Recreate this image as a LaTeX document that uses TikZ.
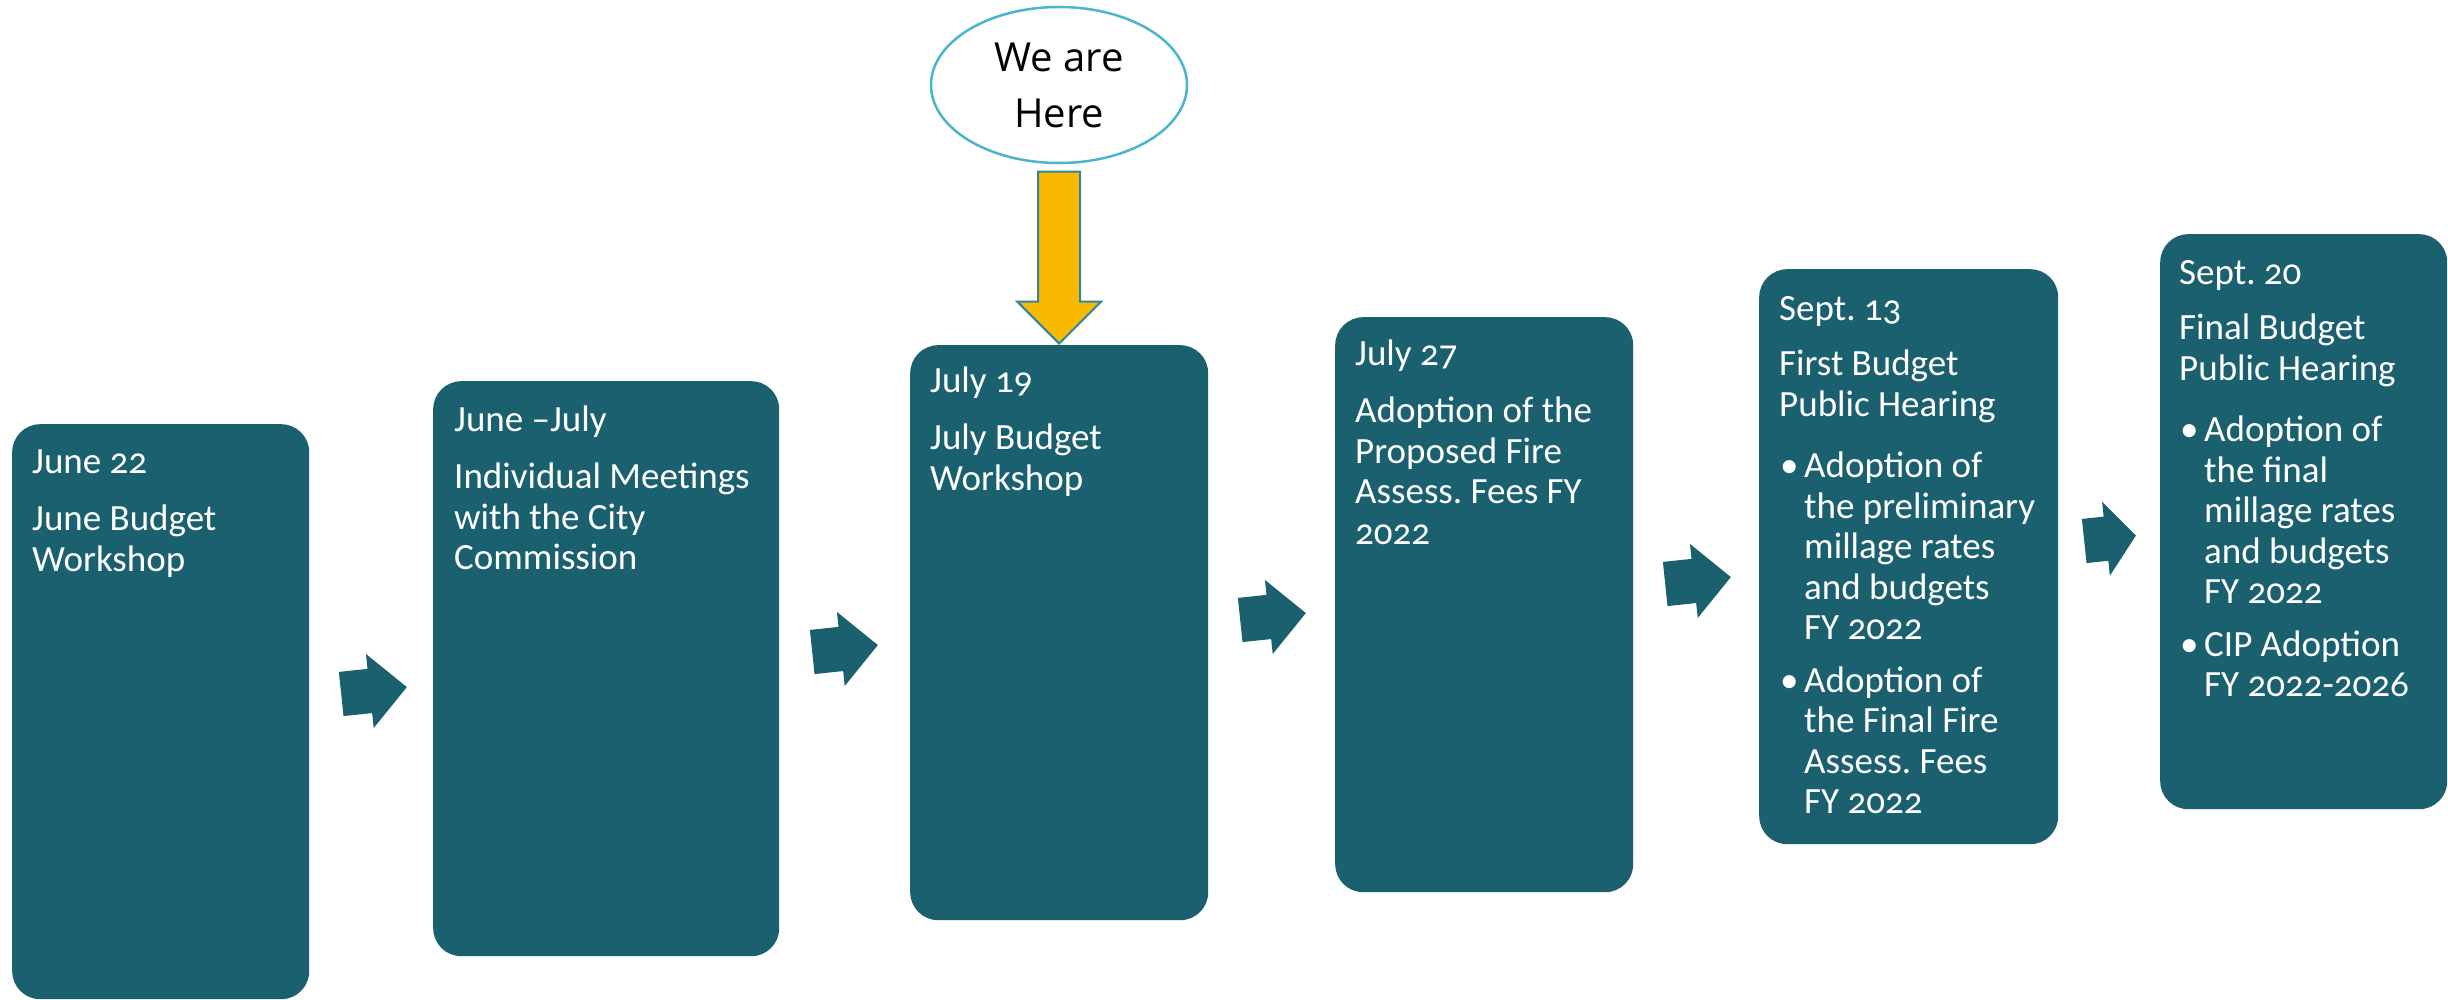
\documentclass[tikz,border=0pt]{standalone}
\usepackage{fontspec}
\setmainfont[Numbers=OldStyle]{Carlito}
\newfontfamily\calloutfont{Open Sans}
\usetikzlibrary{shapes.geometric,shapes.arrows,positioning}
\frenchspacing

\definecolor{stepteal}{RGB}{27,96,110}
\definecolor{calloutblue}{RGB}{75,180,207}
\definecolor{markeryellow}{RGB}{249,185,0}
\definecolor{markeredge}{RGB}{49,133,156}

% first-line strut, bullet and hanging indent for the list lines
\newcommand\firstline{\rule{0pt}{30pt}}
\newcommand\bul{\hspace*{1pt}\makebox[24pt][l]{\textbullet}}
\newcommand\ind{\hspace*{25pt}}

\tikzset{
  stepbox/.style={fill=stepteal, rounded corners=28pt, anchor=north west,
    minimum height=575pt, inner sep=0pt},
  steptext/.style={text=white, inner sep=0pt, align=left,
    font=\fontsize{37}{40.5}\selectfont},
  chevron/.style={single arrow, fill=stepteal, inner xsep=0pt, inner ysep=22pt,
    single arrow head extend=15pt, minimum height=66pt, anchor=tail, rotate=6},
  callout/.style={ellipse, draw=calloutblue, line width=2.5pt, fill=white,
    minimum width=256pt, minimum height=156pt, inner sep=0pt, align=center,
    font=\calloutfont\fontsize{40}{56}\selectfont},
  marker/.style={single arrow, fill=markeryellow, draw=markeredge, line width=2pt,
    inner xsep=0pt, inner ysep=20pt, single arrow head extend=21pt,
    minimum height=172pt, anchor=tip, rotate=-90}
}

\begin{document}
\begin{tikzpicture}[x=1pt, y=-1pt]
    \useasboundingbox (0,0) rectangle (2448,1000);

    % Define boxes
    \node[stepbox, minimum width=297pt] (b1) at (12,424) {};
    \node[stepbox, minimum width=346pt] (b2) at (433,381) {};
    \node[stepbox, minimum width=298pt] (b3) at (910,345) {};
    \node[stepbox, minimum width=298pt] (b4) at (1335,317) {};
    \node[stepbox, minimum width=299pt] (b5) at (1759,269) {};
    \node[stepbox, minimum width=287pt] (b6) at (2160,234) {};

    % Box texts (baseline of the first line 30pt under the node top)
    \node[steptext, below right=19pt and 20pt of b1.north west] (t1)
      {\firstline June 22\\[17pt] June Budget\\ Workshop};
    \node[steptext, below right=20pt and 21pt of b2.north west] (t2)
      {\firstline June \textendash July\\[17pt] Individual Meetings\\ with the City\\ Commission};
    \node[steptext, below right=17pt and 20pt of b3.north west] (t3)
      {\firstline July 19\\[17pt] July Budget\\ Workshop};
    \node[steptext, below right=18pt and 20pt of b4.north west] (t4)
      {\firstline July 27\\[17pt] Adoption of the\\ Proposed Fire\\ Assess. Fees FY\\ 2022};
    \node[steptext, below right=21pt and 20pt of b5.north west] (t5)
      {\firstline Sept. 13\\[15pt] First Budget\\ Public Hearing\\[21pt]
       \bul Adoption of\\ \ind the preliminary\\ \ind millage rates\\
       \ind and budgets\\ \ind FY 2022\\[12pt]
       \bul Adoption of\\ \ind the Final Fire\\ \ind Assess. Fees\\ \ind FY 2022};
    \node[steptext, below right=20pt and 19pt of b6.north west] (t6)
      {\firstline Sept. 20\\[15pt] Final Budget\\ Public Hearing\\[21pt]
       \bul Adoption of\\ \ind the final\\ \ind millage rates\\
       \ind and budgets\\ \ind FY 2022\\[12pt]
       \bul CIP Adoption\\ \ind FY 2022-2026};

    % Arrows between the steps
    \node[chevron] (a1) at (341,694) {};
    \node[chevron] (a2) at (812,652) {};
    \node[chevron] (a3) at (1240,620) {};
    \node[chevron] (a4) at (1665,584) {};
    \node[chevron, minimum height=52pt, single arrow tip angle=102] (a5) at (2084,541) {};

    % Current step marker
    \node[callout] (here) at (1059,85) {We are\\Here};
    \node[marker] (pointer) at (b3.north) {};
\end{tikzpicture}
\end{document}
